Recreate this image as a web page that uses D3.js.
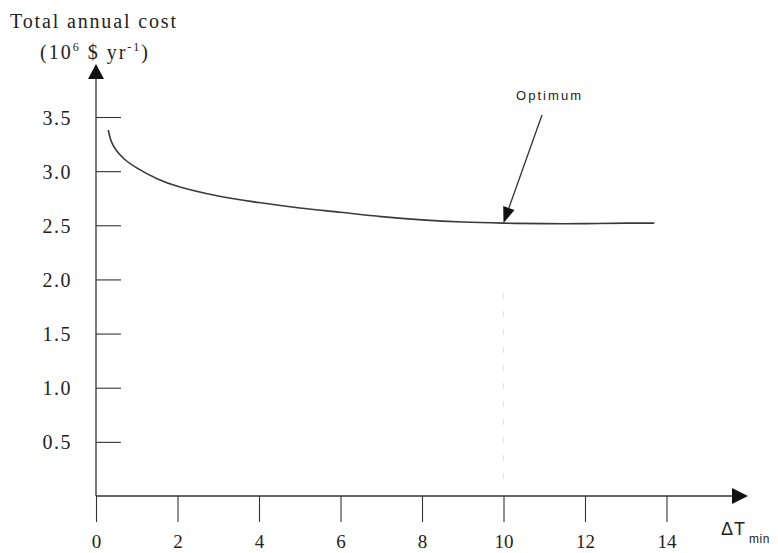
<!DOCTYPE html>
<html>
<head>
<meta charset="utf-8">
<script src="https://cdn.jsdelivr.net/npm/d3@7"></script>
<style>
  html, body { margin: 0; padding: 0; background: #fff; }
  svg { display: block; }
</style>
</head>
<body>
<svg id="chart" width="778" height="553"></svg>
<script>
// Total annual cost versus minimum approach temperature
const dTmin = [0.3, 0.38, 0.5, 0.7, 1.0, 1.5, 2.0, 3.0, 4.0, 5.0, 6.0, 7.0, 8.0, 9.0, 10.0, 11.0, 12.0, 13.0, 13.7];
const cost  = [3.38, 3.27, 3.19, 3.11, 3.03, 2.93, 2.86, 2.77, 2.71, 2.66, 2.62, 2.58, 2.55, 2.53, 2.52, 2.515, 2.515, 2.52, 2.52];
const xTicks = [0, 2, 4, 6, 8, 10, 12, 14];
const yTicks = [0.5, 1.0, 1.5, 2.0, 2.5, 3.0, 3.5];
const optimum = { x: 10, y: 2.52 };

const svg = d3.select("#chart");
const ink = "#333";
const serif = "'Liberation Serif', 'Times New Roman', serif";
const sans = "'Liberation Sans', Arial, sans-serif";

const x = d3.scaleLinear().domain([0, 14]).range([96, 666.5]);
const y = d3.scaleLinear().domain([0, 3.5]).range([496, 117]);

// faint guide from the optimum down to the axis
svg.append("line")
  .attr("x1", x(optimum.x)).attr("x2", x(optimum.x))
  .attr("y1", y(optimum.y) + 70).attr("y2", y(0) - 8)
  .attr("stroke", "#e6e6e6").attr("stroke-width", 1.2)
  .attr("stroke-dasharray", "6,12");

// axis lines with arrow heads
svg.append("line")
  .attr("x1", x(0)).attr("x2", x(0))
  .attr("y1", y(0)).attr("y2", 78)
  .attr("stroke", ink).attr("stroke-width", 1.3);
svg.append("path")
  .attr("d", `M${x(0)},64 L${x(0) - 8},79 L${x(0) + 8},79 Z`)
  .attr("fill", "#111");

svg.append("line")
  .attr("x1", x(0)).attr("x2", 734)
  .attr("y1", y(0)).attr("y2", y(0))
  .attr("stroke", ink).attr("stroke-width", 1.3);
svg.append("path")
  .attr("d", `M748,${y(0)} L732,${y(0) - 8} L732,${y(0) + 8} Z`)
  .attr("fill", "#111");

// x axis ticks and labels
const gx = svg.append("g")
  .attr("transform", `translate(0,${y(0)})`)
  .call(d3.axisBottom(x).tickValues(xTicks).tickSize(26).tickFormat(d3.format("d")));
gx.select(".domain").remove();
gx.selectAll(".tick line").attr("stroke", ink).attr("stroke-width", 1.1);
gx.selectAll(".tick text")
  .attr("y", 52).attr("dy", null)
  .attr("fill", "#222")
  .style("font-family", serif)
  .style("font-size", "19px");

// y axis ticks and labels
const gy = svg.append("g")
  .attr("transform", `translate(${x(0)},0)`)
  .call(d3.axisRight(y).tickValues(yTicks).tickSize(25).tickFormat(d3.format(".1f")));
gy.select(".domain").remove();
gy.selectAll(".tick line").attr("stroke", ink).attr("stroke-width", 1.1);
gy.selectAll(".tick text")
  .attr("x", -24).attr("dy", "0.35em")
  .attr("text-anchor", "end")
  .attr("fill", "#222")
  .style("font-family", serif)
  .style("font-size", "20px")
  .style("letter-spacing", "1.5px");

// cost curve
const line = d3.line()
  .x((d, i) => x(dTmin[i]))
  .y((d, i) => y(cost[i]))
  .curve(d3.curveCatmullRom.alpha(0.5));
svg.append("path")
  .datum(cost)
  .attr("d", line)
  .attr("fill", "none")
  .attr("stroke", "#3a3a3a")
  .attr("stroke-width", 1.6);

// optimum annotation
const tipX = x(optimum.x), tipY = y(optimum.y);
const startX = 542, startY = 115;
const ang = Math.atan2(tipY - startY, tipX - startX);
const headLen = 16, headHalf = 6;
const bx = tipX - headLen * Math.cos(ang), by = tipY - headLen * Math.sin(ang);
svg.append("line")
  .attr("x1", startX).attr("y1", startY)
  .attr("x2", bx).attr("y2", by)
  .attr("stroke", ink).attr("stroke-width", 1.3);
svg.append("path")
  .attr("d", `M${tipX},${tipY} L${bx + headHalf * Math.sin(ang)},${by - headHalf * Math.cos(ang)} L${bx - headHalf * Math.sin(ang)},${by + headHalf * Math.cos(ang)} Z`)
  .attr("fill", "#111");
svg.append("text")
  .attr("x", 516).attr("y", 100)
  .attr("textLength", 65).attr("lengthAdjust", "spacing")
  .attr("fill", "#222")
  .style("font-family", sans)
  .style("font-size", "13px")
  .text("Optimum");

// axis titles
svg.append("text")
  .attr("x", 10).attr("y", 28)
  .attr("textLength", 166).attr("lengthAdjust", "spacing")
  .attr("fill", "#222")
  .style("font-family", serif).style("font-size", "20px")
  .text("Total annual cost");

const unit = svg.append("text")
  .attr("x", 40).attr("y", 59)
  .attr("fill", "#222")
  .style("font-family", serif).style("font-size", "20px")
  .style("letter-spacing", "2px");
unit.append("tspan").text("(10");
unit.append("tspan").attr("dy", -8).style("font-size", "12px").text("6");
unit.append("tspan").attr("dy", 8).text(" $ yr");
unit.append("tspan").attr("dy", -8).style("font-size", "12px").text("-1");
unit.append("tspan").attr("dy", 8).text(")");

const xt = svg.append("text")
  .attr("x", 721).attr("y", 535)
  .attr("fill", "#222")
  .style("font-family", sans)
  .style("font-size", "18px");
xt.append("tspan").style("letter-spacing", "1px").text("\u0394T");
xt.append("tspan").attr("dy", 8).attr("dx", 3).style("font-size", "12px").style("letter-spacing", "0.5px").text("min");
</script>
</body>
</html>
